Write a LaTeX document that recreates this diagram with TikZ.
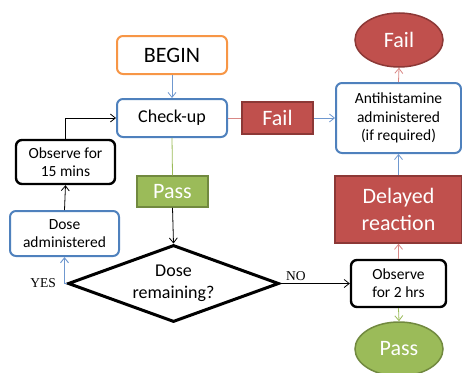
\documentclass[tikz,border=0pt]{standalone}
\usepackage{fontspec}
\setmainfont{Carlito}
\newfontfamily\labelfont{Liberation Serif}
\usetikzlibrary{shapes.geometric,arrows.meta}

\definecolor{boxorange}{HTML}{F79646}
\definecolor{boxblue}{HTML}{4F81BD}
\definecolor{linkblue}{HTML}{6F98CF}
\definecolor{fillred}{HTML}{C0504D}
\definecolor{edgered}{HTML}{8C3836}
\definecolor{linkred}{HTML}{D98886}
\definecolor{fillgreen}{HTML}{9BBB59}
\definecolor{edgegreen}{HTML}{71893F}

\tikzset{
  rbox/.style={rectangle, rounded corners=6pt, fill=white, align=center,
    inner sep=0pt, font=\fontsize{15.5}{18.3}\selectfont},
  bluebox/.style={rbox, draw=boxblue, line width=2pt},
  blackbox/.style={rbox, draw=black, line width=2.4pt},
  redrect/.style={rectangle, draw=edgered, line width=1.5pt, fill=fillred,
    text=white, align=center, inner sep=0pt, font=\fontsize{22}{27}\selectfont},
  greenrect/.style={rectangle, draw=edgegreen, line width=1.5pt, fill=fillgreen,
    text=white, align=center, inner sep=0pt, font=\fontsize{22}{27}\selectfont},
  tip/.style={-{Straight Barb[length=5pt,width=8pt]}},
  yn/.style={font=\labelfont\fontsize{13.5}{16}\selectfont, inner sep=1pt},
}

\begin{document}
\begin{tikzpicture}[x=1pt,y=-1pt]
\useasboundingbox (0,0) rectangle (462,372);

% start and check-up
\node[rbox, draw=boxorange, line width=2pt, minimum width=110pt, minimum height=38pt,
  font=\fontsize{22}{27}\selectfont] (begin) at (172,55) {BEGIN};
\node[bluebox, minimum width=110pt, minimum height=38pt,
  font=\fontsize{18}{21}\selectfont] (check) at (172,118) {Check-up};

% dosing loop on the left
\node[blackbox, minimum width=99pt, minimum height=44pt] (obs15) at (65.5,162) {Observe for\\15 mins};
\node[bluebox, minimum width=109pt, minimum height=45pt] (dose) at (64.5,233.5) {Dose\\administered};
\node[greenrect, minimum width=71pt, minimum height=31pt] (pass1) at (172.5,191.5) {Pass};
\node[diamond, draw=black, line width=3pt, fill=white, aspect=2.74, inner sep=0pt,
  minimum width=211pt, minimum height=77pt, align=center,
  font=\fontsize{18}{22}\selectfont] (remain) at (173.5,283.5) {Dose\\remaining?};

% reaction branch on the right
\node[redrect, minimum width=71pt, minimum height=32pt] (fail1) at (277.5,118) {Fail};
\node[bluebox, minimum width=125pt, minimum height=70pt] (anti) at (398.5,118) {Antihistamine\\administered\\(if required)};
\node[ellipse, draw=edgered, line width=1.5pt, fill=fillred, text=white, inner sep=0pt,
  minimum width=88pt, minimum height=54pt, font=\fontsize{22}{27}\selectfont] (fail2) at (399,40) {Fail};
\node[redrect, minimum width=127pt, minimum height=67pt] (delay) at (398.5,209.5) {Delayed\\reaction};
\node[blackbox, minimum width=95pt, minimum height=47pt] (obs2) at (398.5,283.5) {Observe\\for 2 hrs};
\node[ellipse, draw=edgegreen, line width=1.5pt, fill=fillgreen, text=white, inner sep=0pt,
  minimum width=88pt, minimum height=54pt, font=\fontsize{22}{27}\selectfont] (pass2) at (399,349) {Pass};

% connectors
\draw[linkblue, line width=0.8pt, tip] (begin.south) -- (check.north);
\draw[fillgreen, line width=0.8pt] (check.south) -- (pass1.north);
\draw[black, line width=0.8pt, tip] (pass1.south) -- (remain.north);
\draw[linkblue, line width=1pt, tip] (remain.west) -| (dose.south);
\node[yn, anchor=east] (yes) at (57,283.5) {YES};
\draw[black, line width=0.8pt, tip] (dose.north) -- (obs15.south);
\draw[black, line width=0.8pt, tip] (obs15.north) |- (check.west);
\draw[linkred, line width=1pt] (check.east) -- (fail1.west);
\draw[linkblue, line width=0.8pt, tip] (fail1.east) -- (anti.west);
\draw[black, line width=0.8pt, tip] (remain.east) -- (obs2.west);
\node[yn, anchor=south west] (no) at (285,282) {NO};
\draw[linkred, line width=0.8pt, tip] (obs2.north) -- (delay.south);
\draw[fillgreen, line width=0.8pt, tip] (obs2.south) -- (pass2.north);
\draw[linkblue, line width=0.8pt, tip] (delay.north) -- (anti.south);
\draw[linkred, line width=0.8pt, tip] (anti.north) -- (fail2.south);
\end{tikzpicture}
\end{document}
